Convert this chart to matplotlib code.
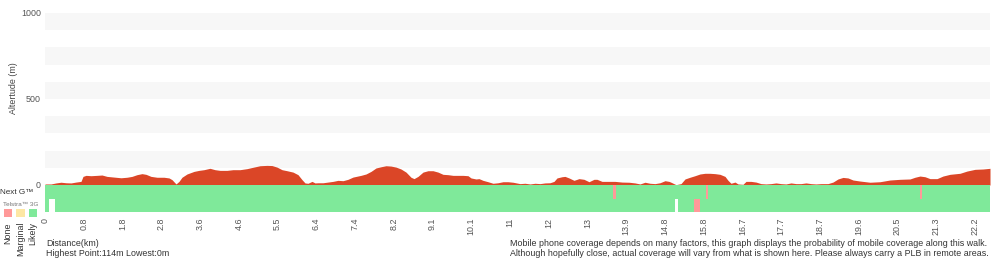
import numpy as np
import matplotlib
matplotlib.use('Agg')
import matplotlib.pyplot as plt

# track position (sample index along the walk) and altitude (m)
track_pos = [0, 6, 11, 16, 21, 26, 31, 36, 38, 41, 46, 52, 57, 62, 69, 76, 82, 87, 92, 97,
             101, 106, 112, 119, 124, 127, 131, 134, 137, 142, 149, 154, 159, 165, 170, 175,
             182, 188, 195, 202, 208, 215, 222, 227, 232, 237, 242, 248, 253, 257, 260, 263,
             267, 270, 273, 278, 283, 288, 293, 298, 303, 308, 316, 321, 326, 331, 336, 341,
             346, 351, 356, 361, 366, 369, 373, 378, 383, 388, 393, 398, 403, 408, 413, 418,
             423, 426, 431, 434, 438, 443, 448, 453, 458, 463, 468, 475, 480, 485, 490, 495,
             500, 505, 509, 512, 517, 520, 524, 529, 534, 539, 544, 549, 552, 557, 564, 570,
             577, 584, 590, 595, 600, 605, 610, 615, 620, 624, 626, 631, 636, 640, 645, 650,
             655, 660, 665, 670, 675, 680, 683, 686, 690, 693, 698, 701, 706, 711, 716, 721,
             726, 731, 736, 741, 746, 751, 756, 761, 766, 771, 776, 783, 788, 793, 798, 803,
             808, 815, 825, 835, 845, 855, 865, 870, 875, 880, 885, 892, 898, 905, 915, 922,
             930, 938, 945]
altitude = [6, 6, 12, 16, 13, 12, 17, 21, 50, 56, 54, 56, 58, 50, 46, 42, 45, 50, 60, 66,
            62, 50, 45, 45, 41, 31, 6, 21, 45, 64, 79, 85, 89, 97, 89, 85,
            85, 89, 89, 95, 103, 112, 114, 113, 104, 89, 83, 75, 60, 31, 12, 10,
            21, 12, 13, 13, 17, 21, 27, 25, 33, 46, 56, 64, 79, 99, 106, 112,
            110, 104, 93, 75, 45, 37, 50, 75, 83, 83, 75, 62, 60, 56, 56, 56,
            54, 41, 35, 37, 27, 19, 10, 13, 19, 19, 16, 8, 10, 6, 10, 8,
            12, 13, 21, 41, 48, 50, 41, 27, 37, 33, 19, 33, 33, 21, 21, 21,
            17, 16, 12, 6, 16, 10, 8, 13, 25, 21, 16, 2, 8, 35, 45, 54,
            64, 68, 68, 66, 62, 50, 27, 10, 17, 6, 4, 21, 21, 17, 8, 6,
            8, 12, 8, 6, 12, 8, 8, 12, 8, 6, 8, 8, 17, 35, 44, 41,
            29, 23, 16, 19, 29, 33, 35, 45, 52, 48, 37, 37, 52, 62, 68, 81,
            91, 93, 97]

tick_labels = ['0', '0.8', '1.8', '2.8', '3.6', '4.6', '5.5', '6.4', '7.4', '8.2', '9.1',
               '10.1', '11', '12', '13', '13.9', '14.8', '15.8', '16.7', '17.7', '18.7',
               '19.6', '20.5', '21.3', '22.2']

# coverage segments: (start, end, level) level 0=None 1=Marginal 2=Likely
nextg_cov = [(0, 568, 2), (568, 571, 0), (571, 661, 2), (661, 663, 0), (663, 875, 2),
             (875, 877, 0), (877, 945, 2)]
telstra3g_cov = [(0, 4, 2), (10, 630, 2), (633, 649, 2), (649, 655, 0), (655, 945, 2)]

level_clrs = ['#ff9999', '#fde7a4', '#7fe99a']
level_names = ['None', 'Marginal', 'Likely']

plt.rcParams['font.family'] = ['Liberation Sans', 'DejaVu Sans']
fs = 6.4
W, H = 1000, 260


def fx(px):
    return px / W


def fy(py):
    return 1 - py / H


def main():
    fig = plt.figure(figsize=(10, 2.6), dpi=100)

    ax = fig.add_axes([fx(45), fy(185), 945 / W, 172 / H])
    ax.set_xlim(0, 945)
    ax.set_ylim(0, 1000)
    for lo in range(100, 1000, 200):
        ax.axhspan(lo, lo + 100, color='#f7f7f7', lw=0)
    ax.fill_between(track_pos, altitude, 0, color='#db4627', lw=0)
    for s in ax.spines.values():
        s.set_visible(False)
    ax.set_xticks([])
    ax.set_yticks([0, 500, 1000])
    ax.set_yticklabels(['0', '500', '1000'], fontsize=fs, color='#555555')
    ax.tick_params(axis='y', length=0, pad=3)

    cov = fig.add_axes([fx(45), fy(212), 945 / W, 27 / H])
    cov.set_xlim(0, 945)
    cov.set_ylim(0, 27)
    for start, end, lvl in nextg_cov:
        cov.broken_barh([(start, end - start)], (13, 14), color=level_clrs[lvl], lw=0)
    for start, end, lvl in telstra3g_cov:
        cov.broken_barh([(start, end - start)], (0, 13), color=level_clrs[lvl], lw=0)
    for s in cov.spines.values():
        s.set_visible(False)
    cov.set_yticks([])
    cov.set_xticks(np.arange(len(tick_labels)) * 38.75)
    cov.set_xticklabels(tick_labels, rotation=90, fontsize=fs, color='#555555')
    cov.tick_params(axis='x', length=0, pad=4)

    fig.text(fx(13), fy(88), 'Altertude (m)', rotation=90, ha='center', va='center',
             fontsize=fs, color='#444444')
    fig.text(fx(0), fy(192), 'Next G\u2122', ha='left', va='center', fontsize=5.9,
             color='#333333')
    fig.text(fx(3), fy(204), 'Telstra\u2122 3G', ha='left', va='center', fontsize=4.6,
             color='#777777')

    for i in range(3):
        x0 = 3.5 + i * 12.5
        fig.patches.append(plt.Rectangle((fx(x0), fy(217)), 8.5 / W, 8 / H,
                                         transform=fig.transFigure, color=level_clrs[i],
                                         lw=0))
        fig.text(fx(x0 + 4.5), fy(222), level_names[i], rotation=90, ha='center', va='top',
                 fontsize=fs, color='#333333')

    fig.text(fx(46), fy(243), 'Distance(km)', ha='left', va='center', fontsize=fs,
             color='#333333')
    fig.text(fx(46), fy(253), 'Highest Point:114m Lowest:0m', ha='left', va='center',
             fontsize=fs, color='#333333')
    fig.text(fx(510), fy(243), 'Mobile phone coverage depends on many factors, this graph '
             'displays the probability of mobile coverage along this walk.',
             ha='left', va='center', fontsize=fs, color='#333333')
    fig.text(fx(510), fy(253), 'Although hopefully close, actual coverage will vary from '
             'what is shown here. Please always carry a PLB in remote areas.',
             ha='left', va='center', fontsize=fs, color='#333333')

    fig.savefig('out.png', dpi=100)


if __name__ == '__main__':
    main()
